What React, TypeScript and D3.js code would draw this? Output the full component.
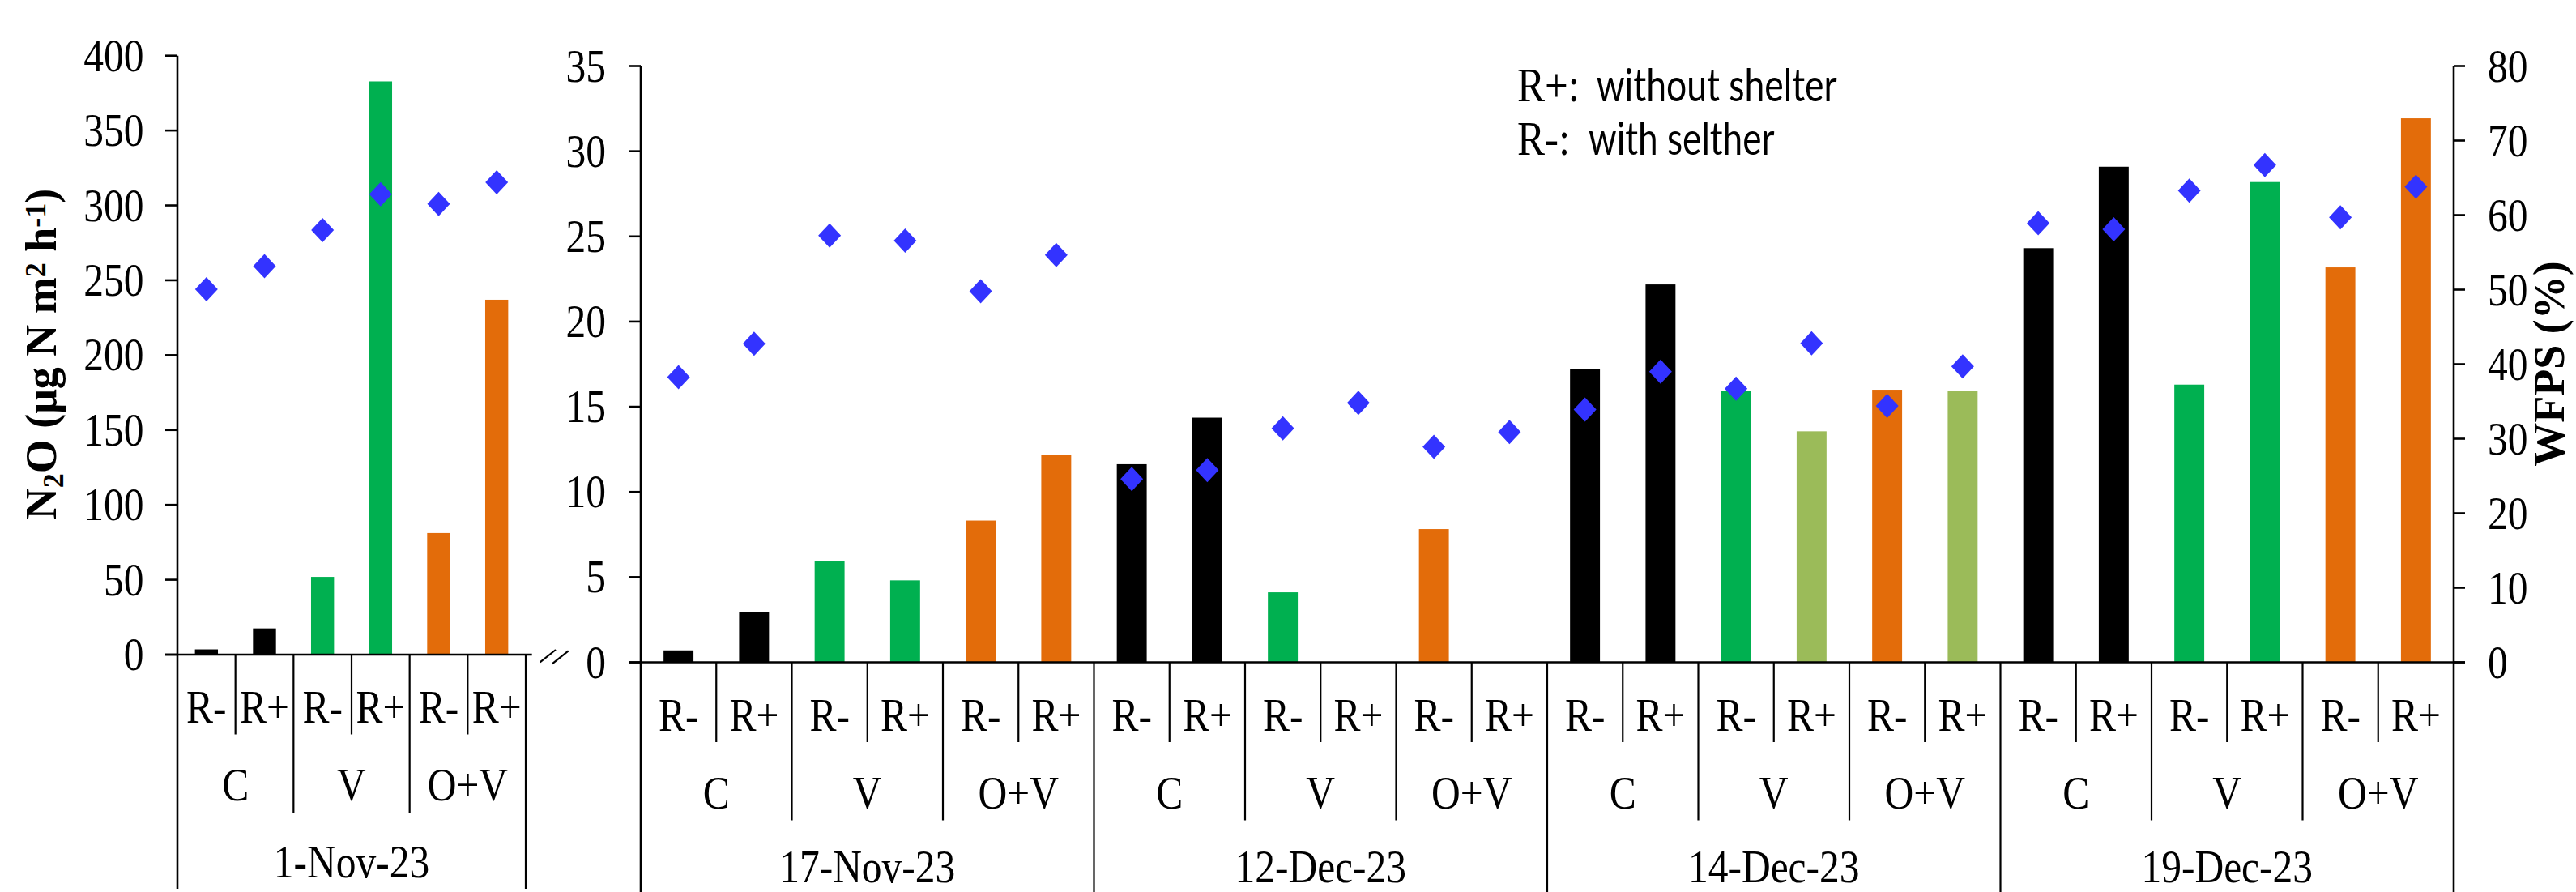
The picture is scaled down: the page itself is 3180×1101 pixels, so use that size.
import React from "react";
import * as d3 from "d3";

const dates = ["1-Nov-23", "17-Nov-23", "12-Dec-23", "14-Dec-23", "19-Dec-23"];
const treatments = ["C", "V", "O+V"];
const shelter = ["R-", "R+"];

// N2O flux (µg N m-2 h-1), order per date: C R-, C R+, V R-, V R+, O+V R-, O+V R+
const n2o1Nov = [3.5, 17.5, 51.9, 382.8, 81.2, 237];
const n2o17Nov = [0.7, 2.97, 5.92, 4.81, 8.32, 12.16];
const n2o12Dec = [11.63, 14.36, 4.11, 0, 7.82, 0];
const n2o14Dec = [17.2, 22.18, 15.93, 13.56, 16.0, 15.93];
const n2o19Dec = [24.31, 29.09, 16.3, 28.19, 23.18, 31.93];

// WFPS (%)
const wfps1Nov = [48.8, 51.9, 56.7, 61.5, 60.2, 63.1];
const wfps17Nov = [38.25, 42.75, 57.26, 56.57, 49.77, 54.66];
const wfps12Dec = [24.59, 25.8, 31.38, 34.8, 28.9, 30.9];
const wfps14Dec = [33.9, 39.0, 36.7, 42.8, 34.4, 39.7];
const wfps19Dec = [58.9, 58.1, 63.3, 66.7, 59.7, 63.8];

const leftTicks = [0, 50, 100, 150, 200, 250, 300, 350, 400];
const rightTicks = [0, 5, 10, 15, 20, 25, 30, 35];
const wfpsTicks = [0, 10, 20, 30, 40, 50, 60, 70, 80];

const lightGreenBars = ["14-Dec-23|V|R+", "14-Dec-23|O+V|R+"];

const colorByTreatment: Record<string, string> = {
  C: "#000000",
  V: "#00B050",
  "O+V": "#E36C0A",
};
const LIGHT_GREEN = "#9BBB59";
const DIAMOND = "#3333FF";
const SERIF = "'Liberation Serif', 'Times New Roman', serif";
const SANS = "Lato, 'Open Sans', sans-serif";
const SY = 1.16;
const FS = 49.5;

const n2oAll = [n2o1Nov, n2o17Nov, n2o12Dec, n2o14Dec, n2o19Dec];
const wfpsAll = [wfps1Nov, wfps17Nov, wfps12Dec, wfps14Dec, wfps19Dec];

type Row = { date: string; trt: string; sh: string; n2o: number; wfps: number; key: string };

function rowsFor(di: number): Row[] {
  const out: Row[] = [];
  treatments.forEach((t, ti) =>
    shelter.forEach((s, si) => {
      const i = ti * 2 + si;
      out.push({ date: dates[di], trt: t, sh: s, n2o: n2oAll[di][i], wfps: wfpsAll[di][i], key: `${dates[di]}|${t}|${s}` });
    })
  );
  return out;
}

function T(props: {
  x: number; y: number; anchor?: string; size?: number; family?: string; weight?: string; children: React.ReactNode; textLength?: number;
}) {
  const { x, y, anchor = "start", size = FS, family = SERIF, weight = "normal", children, textLength } = props;
  return (
    <text
      transform={`translate(${x},${y}) scale(1,${SY})`}
      textAnchor={anchor}
      fontSize={size}
      fontFamily={family}
      fontWeight={weight}
      fill="#000"
      {...(textLength ? { textLength, lengthAdjust: "spacingAndGlyphs" } : {})}
    >
      {children}
    </text>
  );
}

function diamondPath(cx: number, cy: number) {
  const hw = 14, hh = 15;
  return `M${cx},${cy - hh}L${cx + hw},${cy}L${cx},${cy + hh}L${cx - hw},${cy}Z`;
}

function Panel(props: {
  rows: Row[]; x0: number; x1: number; base: number; yScale: d3.ScaleLinear<number, number>;
  wScale: d3.ScaleLinear<number, number>; dateBaseline: number; dateGroups: string[];
}) {
  const { rows, x0, x1, base, yScale, wScale, dateBaseline, dateGroups } = props;
  const x = d3.scaleBand<number>().domain(d3.range(rows.length)).range([x0, x1]).padding(0);
  const bw = x.bandwidth();
  const barW = bw * 0.396;
  const els: React.ReactNode[] = [];
  rows.forEach((r, i) => {
    const cx = (x(i) as number) + bw / 2;
    const color = lightGreenBars.includes(r.key) ? LIGHT_GREEN : colorByTreatment[r.trt];
    if (r.n2o > 0) {
      els.push(
        <rect key={`b${i}`} x={cx - barW / 2} y={yScale(r.n2o)} width={barW} height={base - yScale(r.n2o)} fill={color} />
      );
    }
  });
  rows.forEach((r, i) => {
    const cx = (x(i) as number) + bw / 2;
    els.push(<path key={`d${i}`} d={diamondPath(cx, wScale(r.wfps))} fill={DIAMOND} />);
  });
  rows.forEach((r, i) => {
    const cx = (x(i) as number) + bw / 2;
    els.push(<T key={`s${i}`} x={cx} y={base + 84} anchor="middle">{r.sh}</T>);
    if (i % 2 === 1) {
      els.push(<line key={`is${i}`} x1={x(i) as number} x2={x(i) as number} y1={base} y2={base + 98.5} stroke="#000" strokeWidth={2.2} />);
    }
  });
  const nGroups = rows.length / 2;
  for (let g = 0; g < nGroups; g++) {
    const gx0 = x(g * 2) as number;
    const gcx = gx0 + bw;
    els.push(<T key={`g${g}`} x={gcx} y={base + 180} anchor="middle">{rows[g * 2].trt}</T>);
    if (g % 3 !== 0) {
      els.push(<line key={`gs${g}`} x1={gx0} x2={gx0} y1={base} y2={base + 195} stroke="#000" strokeWidth={2.2} />);
    }
  }
  dateGroups.forEach((d, di) => {
    const dx0 = x(di * 6) as number;
    const dcx = dx0 + bw * 3;
    els.push(<T key={`dt${di}`} x={dcx} y={dateBaseline} anchor="middle">{d}</T>);
    if (di > 0) {
      els.push(<line key={`ds${di}`} x1={dx0} x2={dx0} y1={base} y2={1101} stroke="#000" strokeWidth={2.2} />);
    }
  });
  return <g>{els}</g>;
}

export default function App() {
  const leftRows = rowsFor(0);
  const rightRows = [1, 2, 3, 4].flatMap((d) => rowsFor(d));

  const L = { x0: 219, x1: 649, base: 808, top: 68.7 };
  const R = { x0: 791, x1: 3029, base: 817.5, top: 81.5 };

  const yL = d3.scaleLinear().domain([0, 400]).range([L.base, L.top]);
  const wL = d3.scaleLinear().domain([0, 80]).range([L.base, L.top]);
  const yR = d3.scaleLinear().domain([0, 35]).range([R.base, R.top]);
  const wR = d3.scaleLinear().domain([0, 80]).range([R.base, R.top]);

  return (
    <svg width={3180} height={1101} style={{ position: "absolute", left: 0, top: 0, background: "#fff" }}>
      <rect x={0} y={0} width={3180} height={1101} fill="#fff" />

      <Panel rows={leftRows} x0={L.x0} x1={L.x1} base={L.base} yScale={yL} wScale={wL} dateBaseline={1083} dateGroups={[dates[0]]} />
      <Panel rows={rightRows} x0={R.x0} x1={R.x1} base={R.base} yScale={yR} wScale={wR} dateBaseline={1089} dateGroups={dates.slice(1)} />

      {/* left panel axes */}
      <line x1={L.x0} x2={L.x0} y1={L.top} y2={1097} stroke="#000" strokeWidth={2.6} />
      <line x1={L.x1} x2={L.x1} y1={L.base} y2={1097} stroke="#000" strokeWidth={2.2} />
      <line x1={L.x0 - 15} x2={656.7} y1={L.base} y2={L.base} stroke="#000" strokeWidth={2.6} />
      {leftTicks.map((t) => (
        <g key={`lt${t}`}>
          <line x1={L.x0 - 15} x2={L.x0} y1={yL(t)} y2={yL(t)} stroke="#000" strokeWidth={2.6} />
          <T x={177.5} y={yL(t) + 19} anchor="end">{t}</T>
        </g>
      ))}

      {/* axis break marks */}
      <line x1={666.7} y1={817.3} x2={686} y2={802} stroke="#000" strokeWidth={2.2} />
      <line x1={681.7} y1={819.3} x2={701.7} y2={803.3} stroke="#000" strokeWidth={2.2} />

      {/* right panel axes */}
      <line x1={R.x0} x2={R.x0} y1={R.top} y2={1101} stroke="#000" strokeWidth={2.6} />
      <line x1={R.x1} x2={R.x1} y1={R.top} y2={1101} stroke="#000" strokeWidth={2.6} />
      <line x1={R.x0 - 14} x2={R.x1 + 14} y1={R.base} y2={R.base} stroke="#000" strokeWidth={2.6} />
      {rightTicks.map((t) => (
        <g key={`rt${t}`}>
          <line x1={R.x0 - 14} x2={R.x0} y1={yR(t)} y2={yR(t)} stroke="#000" strokeWidth={2.6} />
          <T x={748} y={yR(t) + 19} anchor="end">{t}</T>
        </g>
      ))}
      {wfpsTicks.map((t) => (
        <g key={`wt${t}`}>
          <line x1={R.x1} x2={R.x1 + 14} y1={wR(t)} y2={wR(t)} stroke="#000" strokeWidth={2.6} />
          <T x={3071} y={wR(t) + 19} anchor="start">{t}</T>
        </g>
      ))}

      {/* axis titles */}
      <text
        transform={`translate(69,437) rotate(-90)`}
        textAnchor="middle"
        fontFamily={SERIF}
        fontWeight="bold"
        fontSize={54}
        fill="#000"
      >
        <tspan>N</tspan>
        <tspan fontSize={36} dy={9}>2</tspan>
        <tspan dy={-9}>O (μg N m</tspan>
        <tspan fontSize={36} dy={-13}>2</tspan>
        <tspan dy={13}> h</tspan>
        <tspan fontSize={36} dy={-13}>-1</tspan>
        <tspan dy={13}>)</tspan>
      </text>
      <text
        transform={`translate(3165,449) rotate(-90)`}
        textAnchor="middle"
        fontFamily={SERIF}
        fontWeight="bold"
        fontSize={54}
        fill="#000"
      >
        WFPS (%)
      </text>

      {/* legend */}
      <T x={1873} y={125} size={51}>R+:</T>
      <T x={1970.7} y={125} family={SANS} size={48} textLength={297}>without shelter</T>
      <T x={1873} y={191} size={51}>R-:</T>
      <T x={1961} y={191} family={SANS} size={48} textLength={229.6}>with selther</T>
    </svg>
  );
}
